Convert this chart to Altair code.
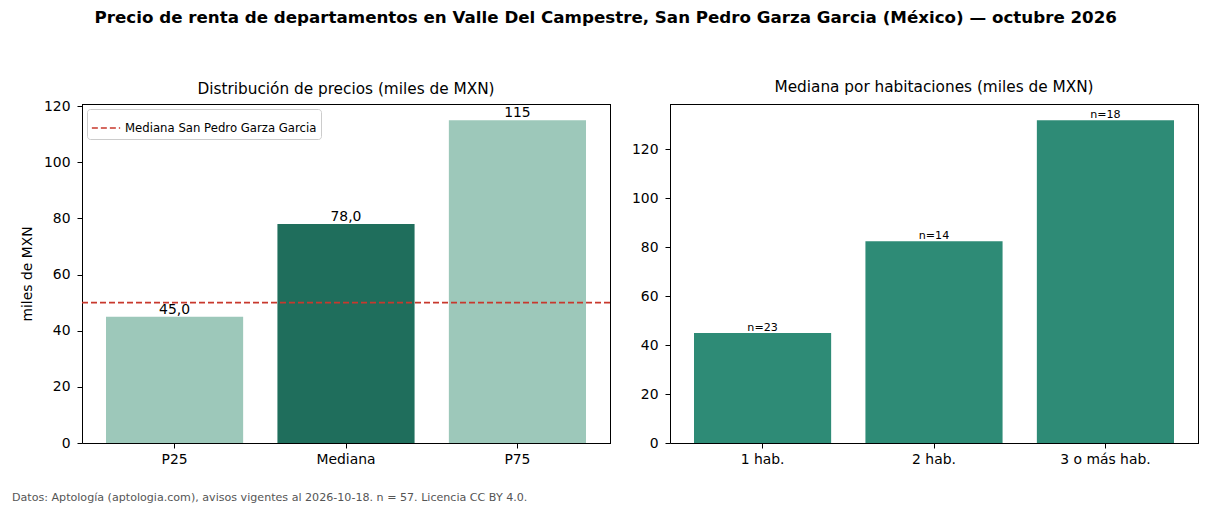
import altair as alt
import pandas as pd

FONT = "DejaVu Sans"

title_text = "Precio de renta de departamentos en Valle Del Campestre, San Pedro Garza Garcia (México) — octubre 2026"
footer_text = "Datos: Aptología (aptologia.com), avisos vigentes al 2026-10-18. n = 57. Licencia CC BY 4.0."

# Left panel data
cats_left = ["P25", "Mediana", "P75"]
vals_left = [45, 78, 115]
labels_left = ["45,0", "78,0", "115"]
ref_value = 50
ref_label = "Mediana San Pedro Garza Garcia"

# Right panel data
cats_right = ["1 hab.", "2 hab.", "3 o más hab."]
vals_right = [45, 82.5, 132]
n_right = [23, 14, 18]

LIGHT = "#9dc8ba"
DARK = "#1f6e5c"
MID = "#2e8b76"
RED = "#c8382d"

W, H = 528, 339
TICK_FS = 13.9

df_left = pd.DataFrame({"cat": cats_left, "val": vals_left, "lab": labels_left})
df_ref = pd.DataFrame({"y": [ref_value], "label": [ref_label]})
df_right = pd.DataFrame({"cat": cats_right, "val": vals_right,
                         "lab": [f"n={n}" for n in n_right]})
df_one = pd.DataFrame({"k": [0]})

xscale = alt.Scale(paddingInner=0.2, paddingOuter=0.14)
xaxis = alt.Axis(title=None, labelAngle=0, labelFontSize=TICK_FS, tickSize=5,
                 labelPadding=4, labelColor="black", tickColor="black",
                 domainColor="black")

def yaxis(title=None):
    kw = dict(values=[0, 20, 40, 60, 80, 100, 120], labelFontSize=TICK_FS, tickSize=5,
              labelPadding=7, grid=False, labelColor="black", tickColor="black",
              domainColor="black")
    if title:
        return alt.Axis(title=title, titleFontSize=TICK_FS, titleFontWeight="normal",
                        titlePadding=9, titleColor="black", **kw)
    return alt.Axis(title=None, **kw)

def spines():
    top = alt.Chart(df_one).mark_rule(color="black", strokeWidth=1).encode(
        x=alt.value(0), x2=alt.value(W + 1), y=alt.value(0.5))
    rgt = alt.Chart(df_one).mark_rule(color="black", strokeWidth=1).encode(
        x=alt.value(W + 0.5), y=alt.value(0), y2=alt.value(H + 1))
    return [top, rgt]

base_l = alt.Chart(df_left)
bars_l = base_l.mark_bar().encode(
    x=alt.X("cat:N", sort=cats_left, scale=xscale, axis=xaxis),
    y=alt.Y("val:Q", scale=alt.Scale(domain=[0, 120.75], nice=False),
            axis=yaxis("miles de MXN")),
    color=alt.condition(alt.datum.cat == "Mediana", alt.value(DARK), alt.value(LIGHT)),
)
text_l = base_l.mark_text(baseline="bottom", dy=0, fontSize=TICK_FS, font=FONT,
                          color="black").encode(
    x=alt.X("cat:N", sort=cats_left),
    y="val:Q",
    text="lab:N",
)
rule = alt.Chart(df_ref).mark_rule(strokeDash=[6, 3], strokeWidth=1.6).encode(
    y="y:Q",
    color=alt.Color("label:N", scale=alt.Scale(range=[RED]),
                    legend=alt.Legend(title=None, orient="top-left", symbolType="stroke",
                                      symbolDash=[6, 3], symbolStrokeWidth=1.6,
                                      symbolSize=800, labelFontSize=11.7, labelFont=FONT,
                                      labelLimit=0,
                                      fillColor="white", strokeColor="#cccccc",
                                      padding=4, cornerRadius=3, offset=5,
                                      labelColor="black")),
)
left = alt.layer(bars_l, rule, text_l, *spines()).properties(
    width=W, height=H,
    title=alt.TitleParams("Distribución de precios (miles de MXN)", fontSize=15.3,
                          fontWeight="normal", offset=2, font=FONT),
)

base_r = alt.Chart(df_right)
bars_r = base_r.mark_bar(color=MID).encode(
    x=alt.X("cat:N", sort=cats_right, scale=xscale, axis=xaxis),
    y=alt.Y("val:Q", scale=alt.Scale(domain=[0, 138.6], nice=False), axis=yaxis()),
)
text_r = base_r.mark_text(baseline="bottom", dy=0, fontSize=11.1, font=FONT,
                          color="black").encode(
    x=alt.X("cat:N", sort=cats_right),
    y="val:Q",
    text="lab:N",
)
right = alt.layer(bars_r, text_r, *spines()).properties(
    width=W, height=H,
    title=alt.TitleParams("Mediana por habitaciones (miles de MXN)", fontSize=15.3,
                          fontWeight="normal", offset=8, font=FONT),
)

footer = alt.Chart(pd.DataFrame({"t": [footer_text]})).mark_text(
    align="left", baseline="middle", fontSize=11.1, font=FONT, color="#555555"
).encode(x=alt.value(-70), y=alt.value(5), text="t:N").properties(
    width=1000, height=10
)

top = alt.hconcat(left, right, spacing=19)

chart = alt.vconcat(top, footer, spacing=26).properties(
    title=alt.TitleParams(title_text, fontSize=16.7, fontWeight="bold", font=FONT,
                          anchor="middle", offset=54, color="black"),
    padding={"left": 12, "top": 9, "right": 5, "bottom": 5},
).configure(font=FONT).configure_view(stroke="transparent", strokeWidth=0)

chart.save("out.html", embed_options={"renderer": "svg", "actions": False})
